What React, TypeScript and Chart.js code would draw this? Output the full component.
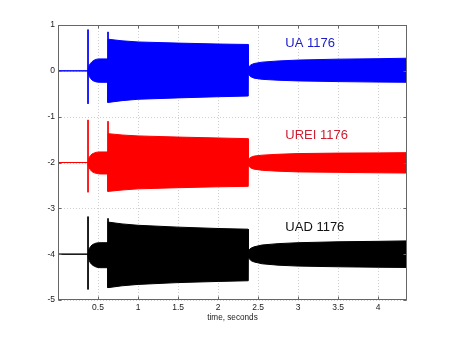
import React, { useEffect, useRef } from 'react';
import { Chart, registerables } from 'chart.js';

Chart.register(...registerables);

// ---- data ----
const channelNames = ['UA 1176', 'UREI 1176', 'UAD 1176'];
const channelColors = ['#0000ff', '#ff0000', '#000000'];
const labelColors = ['#1c1cc8', '#cc1f30', '#111111'];
const channelOffsets = [0, -2, -4];
const labelX = [2.84, 2.84, 2.84];
const labelY = [0.59, -1.4, -3.41];

const xTicks = [0.5, 1, 1.5, 2, 2.5, 3, 3.5, 4];
const yTicks = [-5, -4, -3, -2, -1, 0, 1];

// envelope sample times (seconds)
const envelopeX = [
  0, 0.375, 0.38, 0.39, 0.405, 0.425, 0.455, 0.485, 0.525, 0.625,
  0.625, 0.8, 1.0, 1.5, 2.0, 2.375,
  2.375, 2.38, 2.39, 2.41, 2.45, 2.55, 2.75, 3.0, 3.5, 4.0, 4.36,
];

// upper / lower envelope relative to each channel's offset
const uaUpper = [
  0, 0, 0.07, 0.12, 0.16, 0.2, 0.235, 0.255, 0.26, 0.26,
  0.69, 0.655, 0.63, 0.605, 0.585, 0.575,
  0, 0.06, 0.1, 0.13, 0.16, 0.19, 0.215, 0.235, 0.255, 0.265, 0.275,
];
const uaLower = [
  0, 0, -0.07, -0.12, -0.16, -0.2, -0.23, -0.245, -0.25, -0.25,
  -0.69, -0.65, -0.62, -0.59, -0.565, -0.55,
  0, -0.06, -0.1, -0.13, -0.16, -0.185, -0.205, -0.22, -0.235, -0.245, -0.25,
];
const ureiUpper = [
  0, 0, 0.065, 0.11, 0.15, 0.185, 0.21, 0.225, 0.23, 0.23,
  0.63, 0.6, 0.58, 0.555, 0.535, 0.52,
  0, 0.05, 0.09, 0.115, 0.14, 0.16, 0.18, 0.195, 0.205, 0.21, 0.215,
];
const ureiLower = [
  0, 0, -0.07, -0.12, -0.16, -0.2, -0.225, -0.24, -0.25, -0.25,
  -0.63, -0.6, -0.575, -0.55, -0.53, -0.52,
  0, -0.05, -0.09, -0.12, -0.145, -0.17, -0.19, -0.205, -0.215, -0.225, -0.23,
];
const uadUpper = [
  0, 0, 0.07, 0.12, 0.16, 0.2, 0.23, 0.245, 0.25, 0.25,
  0.7, 0.66, 0.63, 0.59, 0.56, 0.545,
  0, 0.06, 0.1, 0.13, 0.16, 0.2, 0.23, 0.25, 0.27, 0.28, 0.29,
];
const uadLower = [
  0, 0, -0.08, -0.14, -0.19, -0.23, -0.265, -0.285, -0.295, -0.295,
  -0.73, -0.69, -0.66, -0.62, -0.595, -0.58,
  0, -0.06, -0.1, -0.14, -0.17, -0.21, -0.24, -0.26, -0.275, -0.285, -0.29,
];

// thin transient spikes
const spikeX = [0.375, 0.625];
const uaSpikeTop = [0.9, 0.85];
const uaSpikeBottom = [-0.72, -0.69];
const ureiSpikeTop = [0.93, 0.9];
const ureiSpikeBottom = [-0.65, -0.63];
const uadSpikeTop = [0.82, 0.78];
const uadSpikeBottom = [-0.77, -0.73];

const uppers = [uaUpper, ureiUpper, uadUpper];
const lowers = [uaLower, ureiLower, uadLower];
const spikeTops = [uaSpikeTop, ureiSpikeTop, uadSpikeTop];
const spikeBottoms = [uaSpikeBottom, ureiSpikeBottom, uadSpikeBottom];

const FONT = '"Liberation Sans", Arial, Helvetica, sans-serif';

const matlabAxesPlugin = {
  id: 'matlabAxes',
  beforeDatasetsDraw(chart: any) {
    const { ctx, chartArea: a, scales } = chart;
    ctx.save();
    ctx.strokeStyle = '#cfcfcf';
    ctx.lineWidth = 1;
    ctx.setLineDash([1, 2]);
    xTicks.forEach((v) => {
      const px = Math.round(scales.x.getPixelForValue(v)) + 0.5;
      ctx.beginPath();
      ctx.moveTo(px, a.top);
      ctx.lineTo(px, a.bottom);
      ctx.stroke();
    });
    yTicks.forEach((v) => {
      const py = Math.round(scales.y.getPixelForValue(v)) + 0.5;
      ctx.beginPath();
      ctx.moveTo(a.left, py);
      ctx.lineTo(a.right, py);
      ctx.stroke();
    });
    ctx.restore();
  },
  afterDatasetsDraw(chart: any) {
    const { ctx, chartArea: a, scales } = chart;
    ctx.save();
    ctx.setLineDash([]);
    ctx.strokeStyle = '#666666';
    ctx.lineWidth = 1;
    const L = Math.round(a.left) + 0.5;
    const R = Math.round(a.right) - 0.5;
    const T = Math.round(a.top) + 0.5;
    const B = Math.round(a.bottom) - 0.5;
    ctx.strokeRect(L, T, R - L, B - T);
    const tl = 3;
    xTicks.forEach((v) => {
      const px = Math.round(scales.x.getPixelForValue(v)) + 0.5;
      ctx.beginPath();
      ctx.moveTo(px, B);
      ctx.lineTo(px, B - tl);
      ctx.moveTo(px, T);
      ctx.lineTo(px, T + tl);
      ctx.stroke();
    });
    yTicks.forEach((v) => {
      const py = Math.round(scales.y.getPixelForValue(v)) + 0.5;
      ctx.beginPath();
      ctx.moveTo(L, py);
      ctx.lineTo(L + tl, py);
      ctx.moveTo(R, py);
      ctx.lineTo(R - tl, py);
      ctx.stroke();
    });
    ctx.font = `13px ${FONT}`;
    ctx.textAlign = 'left';
    ctx.textBaseline = 'middle';
    channelNames.forEach((name, i) => {
      ctx.fillStyle = labelColors[i];
      ctx.fillText(
        name,
        scales.x.getPixelForValue(labelX[i]),
        scales.y.getPixelForValue(labelY[i])
      );
    });
    ctx.restore();
  },
};

export default function App() {
  const canvasRef = useRef<HTMLCanvasElement | null>(null);

  useEffect(() => {
    if (!canvasRef.current) return;
    const datasets: any[] = [];
    channelOffsets.forEach((off, i) => {
      const color = channelColors[i];
      datasets.push({
        data: envelopeX.map((x, k) => ({ x, y: off + uppers[i][k] })),
        borderColor: color,
        backgroundColor: color,
        borderWidth: 1,
        pointRadius: 0,
        tension: 0,
        fill: '+1',
      });
      datasets.push({
        data: envelopeX.map((x, k) => ({ x, y: off + lowers[i][k] })),
        borderColor: color,
        backgroundColor: color,
        borderWidth: 1,
        pointRadius: 0,
        tension: 0,
        fill: false,
      });
      spikeX.forEach((sx, j) => {
        datasets.push({
          data: [
            { x: sx, y: off + spikeTops[i][j] },
            { x: sx, y: off + spikeBottoms[i][j] },
          ],
          borderColor: color,
          borderWidth: 1,
          pointRadius: 0,
          fill: false,
        });
      });
    });

    const chart = new Chart(canvasRef.current, {
      type: 'line',
      data: { datasets },
      options: {
        animation: false,
        responsive: false,
        events: [],
        layout: { padding: { left: 0, top: 25, right: 43, bottom: 0 } },
        plugins: { legend: { display: false }, tooltip: { enabled: false } },
        scales: {
          x: {
            type: 'linear',
            min: 0,
            max: 4.36,
            afterBuildTicks: (axis: any) => {
              axis.ticks = xTicks.map((v) => ({ value: v }));
            },
            afterFit: (scale: any) => {
              scale.height = 38;
            },
            grid: { display: false, drawTicks: false },
            border: { display: false },
            ticks: {
              autoSkip: false,
              maxRotation: 0,
              padding: 3,
              color: '#222',
              font: { size: 8.5, family: FONT },
              callback: (v: any) => String(v),
            },
            title: {
              display: true,
              text: 'time, seconds',
              color: '#222',
              font: { size: 8.2, family: FONT },
              padding: { top: 0, bottom: 15 },
            },
          },
          y: {
            type: 'linear',
            min: -5,
            max: 1,
            afterBuildTicks: (axis: any) => {
              axis.ticks = yTicks.map((v) => ({ value: v }));
            },
            afterFit: (scale: any) => {
              scale.width = 58;
            },
            grid: { display: false, drawTicks: false },
            border: { display: false },
            ticks: {
              autoSkip: false,
              padding: 3,
              color: '#222',
              font: { size: 8.5, family: FONT },
              callback: (v: any) => String(v),
            },
          },
        },
      },
      plugins: [matlabAxesPlugin],
    });
    return () => chart.destroy();
  }, []);

  return (
    <div
      style={{
        position: 'fixed',
        left: 0,
        top: 0,
        width: 450,
        height: 338,
        background: '#fff',
      }}
    >
      <canvas ref={canvasRef} width={450} height={338} />
    </div>
  );
}
